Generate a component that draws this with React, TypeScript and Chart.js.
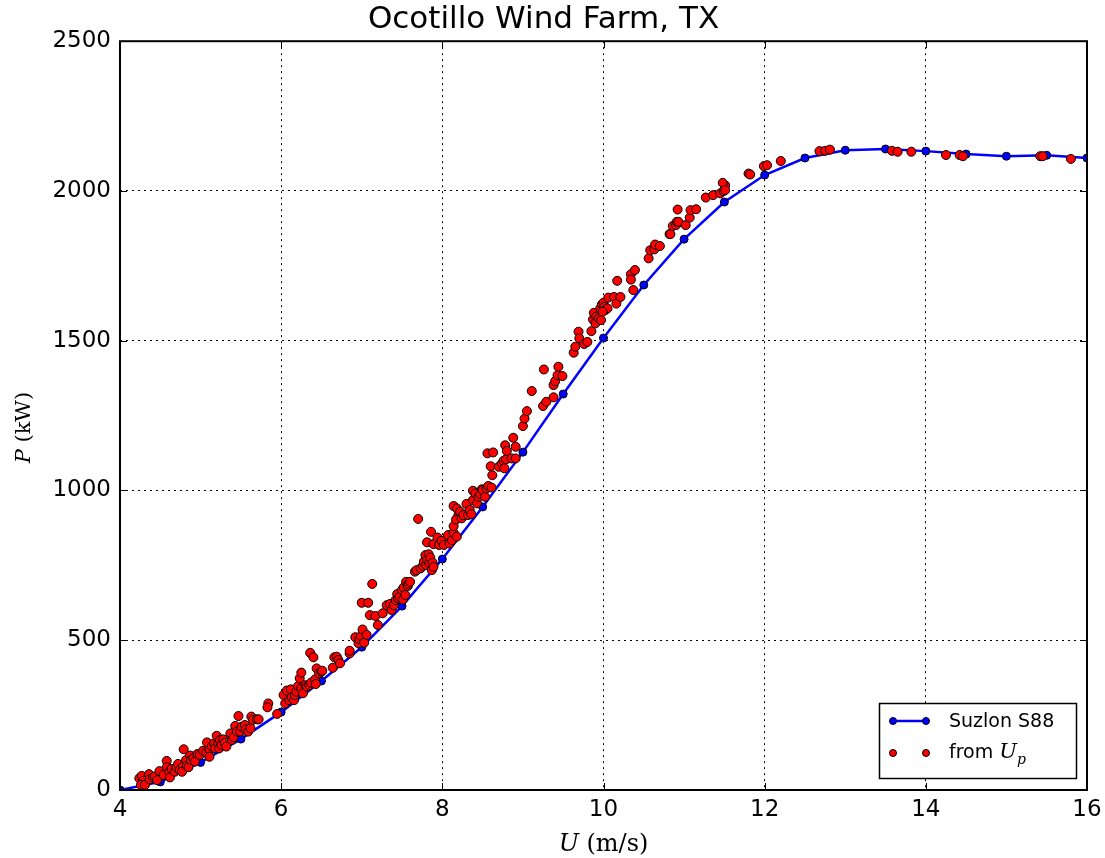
import React, { useEffect, useRef } from "react";
import { Chart, registerables } from "chart.js";

Chart.register(...registerables);

const TITLE = "Ocotillo Wind Farm, TX";
const X_TICKS = [4, 6, 8, 10, 12, 14, 16];
const Y_TICKS = [0, 500, 1000, 1500, 2000, 2500];
const LEGEND_CURVE = "Suzlon S88";
const LEGEND_POINTS_PREFIX = "from ";

// Manufacturer power curve (Suzlon S88)
const curveU = [4, 4.5, 5, 5.5, 6, 6.5, 7, 7.5, 8, 8.5, 9, 9.5, 10, 10.5, 11, 11.5, 12, 12.5, 13, 13.5, 14, 14.5, 15, 15.5, 16];
const curveP = [0, 27, 92, 170, 260, 364, 477, 614, 771, 945, 1128, 1322, 1509, 1686, 1839, 1963, 2053, 2110, 2136, 2140, 2133, 2123, 2116, 2119, 2110];

// Measured points derived from U_p  [U (m/s), P (kW)]
const measured: [number, number][] = [
  [4.24, 39], [4.27, 47], [4.29, 31], [4.26, 17], [4.31, 17], [4.36, 53], [4.37, 36], [4.41, 42], [4.43, 45], [4.46, 33],
  [4.49, 63], [4.54, 50], [4.58, 97], [4.58, 76], [4.61, 61], [4.62, 42], [4.64, 70], [4.68, 61], [4.70, 76], [4.72, 87],
  [4.74, 67], [4.78, 78], [4.79, 136], [4.77, 61], [4.82, 100], [4.83, 80], [4.85, 76], [4.87, 115], [4.88, 100], [4.91, 106],
  [4.93, 95], [4.96, 120], [4.99, 117], [5.03, 131], [5.07, 125], [5.08, 159], [5.11, 134], [5.11, 111], [5.14, 145], [5.17, 156],
  [5.18, 139], [5.20, 181], [5.22, 156], [5.23, 139], [5.24, 167], [5.26, 150], [5.28, 169], [5.30, 158], [5.32, 145], [5.37, 189],
  [5.39, 167], [5.41, 176], [5.43, 214], [5.45, 195], [5.47, 247], [5.49, 195], [5.51, 211], [5.55, 217], [5.56, 202], [5.59, 195],
  [5.62, 206], [5.63, 245], [5.65, 234], [5.70, 236], [5.72, 236], [5.84, 289], [5.83, 276],
  [5.95, 254], [6.03, 317], [6.05, 289], [6.07, 332], [6.10, 300], [6.12, 336], [6.13, 309], [6.16, 300], [6.17, 317], [6.19, 328],
  [6.21, 347], [6.23, 373], [6.25, 392], [6.25, 339], [6.27, 323], [6.30, 350], [6.32, 345], [6.35, 350], [6.36, 458], [6.37, 358],
  [6.40, 443], [6.42, 369], [6.43, 354], [6.44, 406], [6.47, 389], [6.50, 395], [6.51, 398], [6.64, 408], [6.66, 443], [6.69, 445],
  [6.71, 434], [6.73, 423], [6.85, 456], [6.85, 465], [6.92, 510], [6.96, 490], [6.97, 503], [6.99, 514], [7.01, 536], [7.03, 492],
  [7.06, 518], [7.20, 551], [7.10, 584], [7.17, 581], [7.26, 590], [7.31, 617], [7.35, 621], [7.00, 625], [7.08, 625], [7.13, 688],
  [7.37, 601], [7.40, 617], [7.42, 634], [7.44, 654], [7.45, 639], [7.47, 645], [7.50, 668], [7.51, 636], [7.52, 676], [7.54, 651],
  [7.55, 695], [7.57, 681], [7.58, 688], [7.60, 695], [7.66, 729], [7.68, 734], [7.70, 905], [7.73, 740], [7.76, 748], [7.77, 762],
  [7.79, 784], [7.80, 751], [7.81, 768], [7.83, 787], [7.84, 759], [7.85, 776], [7.86, 862], [7.87, 734], [7.88, 759], [7.89, 745],
  [7.81, 827], [7.89, 821], [7.94, 843], [7.96, 818], [7.99, 832], [8.02, 818], [8.07, 851], [8.09, 823], [8.12, 834], [8.14, 859],
  [8.18, 846],
  [8.14, 881], [8.14, 948], [8.18, 940], [8.20, 918], [8.17, 903], [8.22, 929], [8.24, 907], [8.26, 918], [8.30, 955], [8.32, 918],
  [8.34, 935], [8.36, 921], [8.38, 968], [8.38, 999], [8.41, 990], [8.43, 957], [8.45, 979], [8.47, 988], [8.49, 1004], [8.50, 1001],
  [8.53, 979], [8.55, 1007], [8.57, 1015], [8.61, 1010], [8.62, 1051], [8.60, 1081], [8.56, 1124], [8.63, 1127], [8.70, 1079], [8.74, 1090],
  [8.76, 1099], [8.77, 1074], [8.79, 1104], [8.78, 1151], [8.80, 1132], [8.86, 1107], [8.88, 1176], [8.91, 1146], [8.91, 1107],
  [9.00, 1215], [9.02, 1240], [9.05, 1265], [9.11, 1332], [9.25, 1282], [9.29, 1296], [9.38, 1311], [9.38, 1352], [9.40, 1365], [9.43, 1385],
  [9.49, 1382], [9.44, 1413], [9.26, 1404], [9.63, 1460], [9.65, 1480], [9.69, 1530], [9.70, 1508], [9.76, 1489], [9.80, 1496], [9.85, 1532],
  [9.87, 1571], [9.88, 1593], [9.91, 1580], [9.90, 1558], [9.94, 1574], [9.97, 1569], [9.96, 1608], [9.98, 1621], [10.00, 1627], [10.01, 1613],
  [10.02, 1602], [10.05, 1608], [9.99, 1597], [10.06, 1644], [10.13, 1646], [10.16, 1624], [10.21, 1646], [10.17, 1700], [10.34, 1722], [10.34, 1704],
  [10.37, 1669],
  [10.39, 1736], [10.56, 1775], [10.58, 1802], [10.63, 1805], [10.64, 1821], [10.70, 1816], [10.82, 1856], [10.83, 1856], [10.86, 1883], [10.90, 1886],
  [10.91, 1897], [10.93, 1897], [10.92, 1938], [11.02, 1886], [11.07, 1911], [11.08, 1936], [11.15, 1939], [11.27, 1978], [11.36, 1986], [11.45, 1992],
  [11.49, 2000], [11.51, 2019], [11.48, 2027], [11.51, 2003],
  [11.80, 2058], [11.82, 2055], [11.99, 2083], [12.03, 2086], [12.20, 2100], [12.68, 2133], [12.75, 2134], [12.81, 2138], [13.58, 2134], [13.65, 2131],
  [13.82, 2131], [14.25, 2120], [14.42, 2120], [14.46, 2116], [15.42, 2116], [15.45, 2116], [15.80, 2107],
];

const SANS = "'DejaVu Sans', sans-serif";
const SERIF = "'DejaVu Serif', serif";

function drawDot(ctx: CanvasRenderingContext2D, x: number, y: number, r: number, fill: string) {
  ctx.beginPath();
  ctx.arc(x, y, r, 0, Math.PI * 2);
  ctx.fillStyle = fill;
  ctx.fill();
  ctx.lineWidth = 1;
  ctx.strokeStyle = "#000";
  ctx.stroke();
}

const decorPlugin = {
  id: "decor",
  afterDraw(chart: any) {
    const { ctx, chartArea: a, scales } = chart;
    const xs = scales.x;
    const ys = scales.y;
    ctx.save();
    // inward ticks
    ctx.strokeStyle = "#000";
    ctx.lineWidth = 1;
    ctx.setLineDash([]);
    X_TICKS.forEach((v) => {
      const px = Math.round(xs.getPixelForValue(v)) + 0.5;
      ctx.beginPath();
      ctx.moveTo(px, a.bottom);
      ctx.lineTo(px, a.bottom - 7);
      ctx.moveTo(px, a.top);
      ctx.lineTo(px, a.top + 7);
      ctx.stroke();
    });
    Y_TICKS.forEach((v) => {
      const py = Math.round(ys.getPixelForValue(v)) + 0.5;
      ctx.beginPath();
      ctx.moveTo(a.left, py);
      ctx.lineTo(a.left + 7, py);
      ctx.moveTo(a.right, py);
      ctx.lineTo(a.right - 7, py);
      ctx.stroke();
    });
    // frame
    ctx.lineWidth = 2;
    ctx.strokeRect(a.left, a.top, a.right - a.left, a.bottom - a.top);

    // x axis title: U (m/s)
    ctx.fillStyle = "#000";
    ctx.textBaseline = "alphabetic";
    ctx.textAlign = "left";
    const fItal = `italic 24px ${SERIF}`;
    const fNorm = `24px ${SERIF}`;
    ctx.font = fItal;
    const wU = ctx.measureText("U").width;
    ctx.font = fNorm;
    const wRest = ctx.measureText(" (m/s)").width;
    const cx = (a.left + a.right) / 2;
    const x0 = cx - (wU + wRest) / 2;
    const by = 851;
    ctx.font = fItal;
    ctx.fillText("U", x0, by);
    ctx.font = fNorm;
    ctx.fillText(" (m/s)", x0 + wU, by);

    // y axis title: P (kW)
    ctx.save();
    ctx.translate(30, (a.top + a.bottom) / 2 + 12);
    ctx.rotate(-Math.PI / 2);
    const fItalY = `italic 21px ${SERIF}`;
    const fNormY = `21px ${SERIF}`;
    ctx.font = fItalY;
    const wP = ctx.measureText("P").width;
    ctx.font = fNormY;
    const wKw = ctx.measureText(" (kW)").width;
    const y0 = -(wP + wKw) / 2;
    ctx.font = fItalY;
    ctx.fillText("P", y0, 0);
    ctx.font = fNormY;
    ctx.fillText(" (kW)", y0 + wP, 0);
    ctx.restore();

    // legend
    const lx = 879.5, ly = 703.5, lw = 197, lh = 75;
    ctx.fillStyle = "#fff";
    ctx.fillRect(lx, ly, lw, lh);
    ctx.lineWidth = 1.5;
    ctx.strokeStyle = "#000";
    ctx.strokeRect(lx, ly, lw, lh);
    const r1 = 721, r2 = 753;
    ctx.beginPath();
    ctx.moveTo(893, r1);
    ctx.lineTo(926, r1);
    ctx.strokeStyle = "#0000ff";
    ctx.lineWidth = 2.5;
    ctx.stroke();
    drawDot(ctx, 893, r1, 3.5, "#0000ff");
    drawDot(ctx, 926, r1, 3.5, "#0000ff");
    drawDot(ctx, 893, r2, 3.5, "#ff0000");
    drawDot(ctx, 926, r2, 3.5, "#ff0000");
    ctx.fillStyle = "#000";
    ctx.textBaseline = "middle";
    ctx.font = `19px ${SANS}`;
    ctx.fillText(LEGEND_CURVE, 949, r1 + 1);
    ctx.fillText(LEGEND_POINTS_PREFIX, 949, r2);
    const wFrom = ctx.measureText(LEGEND_POINTS_PREFIX).width;
    ctx.font = `italic 21px ${SERIF}`;
    ctx.fillText("U", 949 + wFrom, r2);
    const wU2 = ctx.measureText("U").width;
    ctx.font = `italic 14px ${SERIF}`;
    ctx.fillText("p", 949 + wFrom + wU2, r2 + 7);
    ctx.restore();
  },
};

export default function App() {
  const ref = useRef<HTMLCanvasElement | null>(null);
  useEffect(() => {
    if (!ref.current) return;
    const tickFont = { family: SANS, size: 23 };
    const chart = new Chart(ref.current, {
      type: "scatter",
      data: {
        datasets: [
          {
            label: LEGEND_CURVE,
            data: curveU.map((u, i) => ({ x: u, y: curveP[i] })),
            showLine: true,
            borderColor: "#0000ff",
            borderWidth: 2.5,
            backgroundColor: "#0000ff",
            pointBackgroundColor: "#0000ff",
            pointBorderColor: "#000",
            pointBorderWidth: 1,
            pointRadius: 4,
            tension: 0,
            clip: 0,
            order: 2,
          } as any,
          {
            label: "from U_p",
            data: measured.map(([u, p]) => ({ x: u, y: p })),
            showLine: false,
            backgroundColor: "#ff0000",
            borderColor: "#000",
            pointBackgroundColor: "#ff0000",
            pointBorderColor: "#000",
            pointBorderWidth: 1,
            pointRadius: 4.5,
            clip: 0,
            order: 1,
          } as any,
        ],
      },
      options: {
        responsive: false,
        animation: false,
        layout: { padding: { left: 0, right: 18, top: 0, bottom: 0 } },
        plugins: {
          legend: { display: false },
          tooltip: { enabled: false },
          title: {
            display: true,
            text: TITLE,
            color: "#000",
            font: { family: SANS, size: 31, weight: "normal", lineHeight: 1.2 },
            padding: { top: 1, bottom: 3 },
          },
        },
        scales: {
          x: {
            type: "linear",
            min: 4,
            max: 16,
            afterFit: (s: any) => {
              s.height = 68;
              s.paddingLeft = 0;
              s.paddingRight = 0;
            },
            afterBuildTicks: (s: any) => {
              s.ticks = X_TICKS.map((v) => ({ value: v }));
            },
            ticks: { font: tickFont, color: "#000", padding: 6, maxRotation: 0, autoSkip: false, callback: (v: any) => String(v) },
            grid: { color: "#000", lineWidth: 1, drawTicks: false },
            border: { display: false, dash: [2, 4] },
          },
          y: {
            type: "linear",
            min: 0,
            max: 2500,
            afterFit: (s: any) => {
              s.width = 120;
              s.paddingTop = 0;
              s.paddingBottom = 0;
            },
            afterBuildTicks: (s: any) => {
              s.ticks = Y_TICKS.map((v) => ({ value: v }));
            },
            ticks: { font: tickFont, color: "#000", padding: 9, autoSkip: false, callback: (v: any) => String(v) },
            grid: { color: "#000", lineWidth: 1, drawTicks: false },
            border: { display: false, dash: [2, 4] },
          },
        },
      },
      plugins: [decorPlugin],
    } as any);
    return () => chart.destroy();
  }, []);
  return (
    <div style={{ position: "absolute", left: 0, top: 0, width: 1105, height: 858, background: "#fff" }}>
      <canvas ref={ref} width={1105} height={858} style={{ display: "block" }} />
    </div>
  );
}
